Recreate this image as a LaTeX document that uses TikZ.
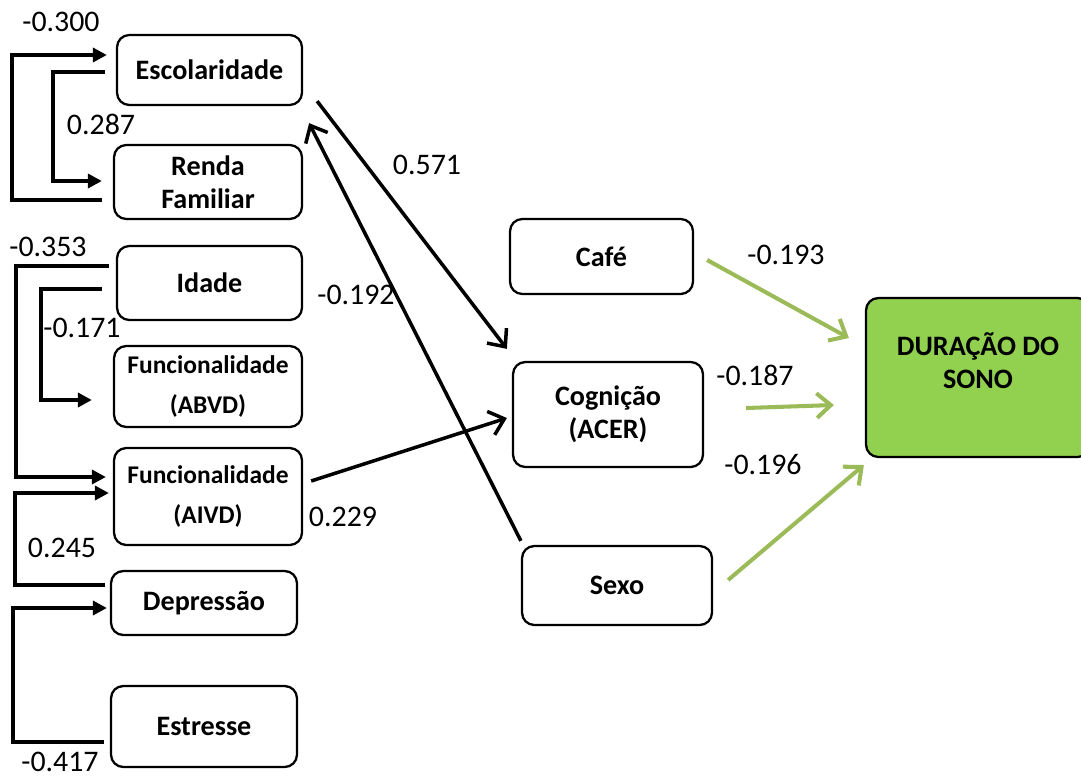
\documentclass[tikz,border=0pt]{standalone}
\usepackage{fontspec}
\setmainfont{Carlito}
\usetikzlibrary{arrows.meta,calc}
\definecolor{boxgreen}{HTML}{92D050}
\definecolor{arrowgreen}{HTML}{9BBB59}
\begin{document}
\begin{tikzpicture}[x=0.02cm,y=-0.02cm,
  box/.style={draw=black,line width=1.3pt,rounded corners=7pt,fill=white,
    inner sep=0pt,align=center,font=\fontsize{16}{18.7}\selectfont\bfseries},
  smallbox/.style={box,font=\fontsize{14.5}{22.7}\selectfont\bfseries},
  coef/.style={font=\fontsize{17}{20}\selectfont,inner sep=0pt},
  brk/.style={line width=2pt,-{Triangle[length=8pt,width=8pt]}},
  path/.style={line width=2pt,-{Straight Barb[length=8pt,width=14pt,line width=2pt]}},
  gpath/.style={arrowgreen,line width=2.3pt,-{Straight Barb[length=8pt,width=14pt,line width=2.3pt]}}]
\useasboundingbox (0,0) rectangle (1081,778);

% left column of predictors
\node[box,minimum width=3.70cm,minimum height=1.40cm] (esc)   at (209.5,70)  {Escolaridade};
\node[box,minimum width=3.76cm,minimum height=1.48cm] (renda) at (208,182)   {Renda\\Familiar};
\node[box,minimum width=3.70cm,minimum height=1.48cm] (idade) at (209.5,283) {Idade};
\node[smallbox,minimum width=3.76cm,minimum height=1.62cm] (abvd) at (208,386.5) {Funcionalidade\\(ABVD)};
\node[smallbox,minimum width=3.76cm,minimum height=1.94cm] (aivd) at (208,496.5) {Funcionalidade\\(AIVD)};
\node[box,minimum width=3.72cm,minimum height=1.28cm] (dep)   at (204,603)   {Depressão};
\node[box,minimum width=3.72cm,minimum height=1.62cm] (est)   at (204,726.5) {Estresse};

% middle column
\node[box,minimum width=3.66cm,minimum height=1.50cm] (cafe)  at (601.5,256.5) {Café};
\node[box,minimum width=3.80cm,minimum height=2.10cm] (cog)   at (608,414.5)   {Cognição\\(ACER)};
\node[box,minimum width=3.80cm,minimum height=1.58cm] (sexo)  at (617,585.5)   {Sexo};

% outcome
\node[box,fill=boxgreen,minimum width=4.48cm,minimum height=3.18cm] (dur) at (978,377.5) {};
\node[font=\fontsize{16}{18.7}\selectfont\bfseries,align=center] (durtxt) at (978,361) {DURAÇÃO DO\\SONO};

% correlations on the left
\draw[brk] ($(renda.west)+(-11,18)$) -- ++(-90,0) |- ($(esc.west)+(-9,-15)$);
\draw[brk] ($(esc.west)+(-11,2)$) -- ++(-52,0) |- ($(renda.west)+(-11,-1)$);
\draw[brk] ($(idade.west)+(-7,-17)$) -- ++(-93,0) |- ($(aivd.west)+(-7,-19.5)$);
\draw[brk] ($(idade.west)+(-14,6)$) -- ++(-61,0) |- ($(abvd.west)+(-21,13.5)$);
\draw[brk] ($(dep.west)+(-5,-18)$) -- ++(-90,0) |- ($(aivd.west)+(-4,-3.5)$);
\draw[brk] ($(est.west)+(-6,15.5)$) -- ++(-91,0) |- ($(dep.west)+(-3,5)$);

\node[coef] at (61,22)   {-0.300};
\node[coef] at (101,124) {0.287};
\node[coef] at (48,247)  {-0.353};
\node[coef] at (82,328)  {-0.171};
\node[coef] at (62,548)  {0.245};
\node[coef] at (60,762)  {-0.417};

% paths towards cognition and education
\draw[path] ($(esc.south east)+(14,-5)$) -- ($(cog.north west)+(-5,-12)$);
\draw[path] ($(sexo.north west)+(0,-4)$) -- ($(esc.south east)+(6,17)$);
\draw[path] ($(aivd.east)+(8,-15.5)$) -- ($(cog.west)+(-5,3.5)$);

\node[coef] at (427,165) {0.571};
\node[coef] at (356,295) {-0.192};
\node[coef] at (343,517) {0.229};

% paths towards sleep duration
\draw[gpath] ($(cafe.east)+(13,3.5)$) -- ($(dur.west)+(-16,-39.5)$);
\draw[gpath] ($(cog.east)+(42,-6.5)$) -- ($(dur.west)+(-31,27.5)$);
\draw[gpath] ($(sexo.east)+(15,-5.5)$) -- ($(dur.west)+(-1,87.5)$);

\node[coef] at (786,255) {-0.193};
\node[coef] at (755,375) {-0.187};
\node[coef] at (763,465) {-0.196};
\end{tikzpicture}
\end{document}
